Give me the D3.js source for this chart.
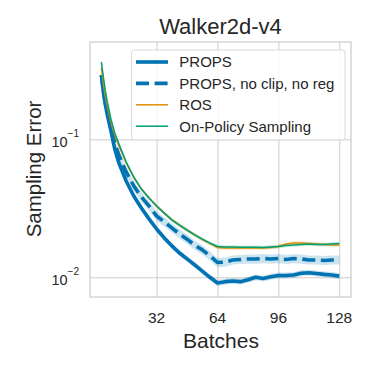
<!DOCTYPE html>
<html>
<head>
<meta charset="utf-8">
<script src="https://cdnjs.cloudflare.com/ajax/libs/d3/7.8.5/d3.min.js"></script>
<style>
  html, body { margin: 0; padding: 0; background: #fff; overflow: hidden; }
  svg { display: block; }
</style>
</head>
<body>
<svg id="chart" width="370" height="370" viewBox="0 0 370 370" font-family="Liberation Sans, Arial, sans-serif"></svg>
<script>
const batches = [3, 4, 5, 6, 8, 10, 12, 16, 20, 24, 28, 32, 36, 40, 44, 48, 52, 56, 60, 64,
    68, 72, 76, 80, 84, 88, 92, 96, 100, 104, 108, 112, 116, 120, 124, 128];

const props = [0.292, 0.220, 0.180, 0.1525, 0.115, 0.085, 0.0685, 0.0499, 0.0388, 0.0318, 0.0265,
    0.0224, 0.0193, 0.0169, 0.0150, 0.0136, 0.0123, 0.0111, 0.0100, 0.0091,
    0.0093, 0.0094, 0.0093, 0.0096, 0.0100, 0.0098, 0.0101, 0.0103, 0.0103, 0.0104,
    0.0107, 0.0108, 0.01065, 0.0105, 0.0104, 0.0102];

const propsNoClip = [0.292, 0.224, 0.186, 0.160, 0.123, 0.094, 0.078, 0.058, 0.0459, 0.0382, 0.0329,
    0.0278, 0.0252, 0.0228, 0.0206, 0.0189, 0.0171, 0.0158, 0.0143, 0.0128,
    0.0129, 0.01335, 0.01346, 0.01357, 0.01357, 0.01368, 0.01357, 0.01368, 0.01346, 0.01368,
    0.01357, 0.01335, 0.01335, 0.01323, 0.01335, 0.01335];

const ros = [0.329, 0.256, 0.209, 0.177, 0.1335, 0.107, 0.091, 0.0674, 0.0529, 0.0436, 0.0375,
    0.0329, 0.0292, 0.0262, 0.0239, 0.0220, 0.0203, 0.0188, 0.0176, 0.01644,
    0.01631, 0.01631, 0.01631, 0.01631, 0.01631, 0.01631, 0.01644, 0.01672, 0.01743, 0.0177,
    0.0177, 0.0176, 0.01743, 0.01728, 0.01714, 0.01714];

const onPolicy = [0.363, 0.283, 0.228, 0.1895, 0.140, 0.111, 0.094, 0.0685, 0.0533, 0.0436, 0.0375,
    0.0329, 0.0292, 0.0260, 0.0239, 0.0220, 0.0203, 0.0189, 0.0177, 0.01672,
    0.01658, 0.01658, 0.01652, 0.0165, 0.0165, 0.01644, 0.01658, 0.01672, 0.0170, 0.01714,
    0.01728, 0.01743, 0.01728, 0.01728, 0.01743, 0.0176];

// multiplicative half-width of the shaded band, read per series
const bandRatio = [1.05, 1.08, 1.03, 1.03];

const seriesNames = ["PROPS", "PROPS, no clip, no reg", "ROS", "On-Policy Sampling"];
const seriesValues = [props, propsNoClip, ros, onPolicy];
const xTickValues = [32, 64, 96, 128];
const yTickValues = [0.01, 0.1];
const yTickExponents = ["−2", "−1"];

const colors = ["#0173b2", "#0173b2", "#de8f05", "#029e73"];
const widths = [3.6, 3.6, 1.5, 1.5];
const dashes = [null, "13,5.6", null, null];

const svg = d3.select("#chart");
const margin = { top: 42, right: 19, bottom: 73, left: 90 };
const width = 370, height = 370;
const innerWidth = width - margin.left - margin.right;
const innerHeight = height - margin.top - margin.bottom;

const xScale = d3.scaleLinear()
    .domain([-3, 134.15])
    .range([margin.left, margin.left + innerWidth]);

const yScale = d3.scaleLog()
    .domain([0.0072, 0.507])
    .range([margin.top + innerHeight, margin.top]);

svg.append("clipPath").attr("id", "plot-clip")
    .append("rect")
    .attr("x", margin.left)
    .attr("y", margin.top)
    .attr("width", innerWidth)
    .attr("height", innerHeight);

// grid lines from the axes, labels drawn separately
const xAxisG = svg.append("g")
    .attr("transform", `translate(0,${margin.top + innerHeight})`)
    .call(d3.axisBottom(xScale).tickValues(xTickValues).tickSize(-innerHeight).tickFormat(() => ""));
xAxisG.select(".domain").remove();
xAxisG.selectAll(".tick text").remove();
xAxisG.selectAll(".tick line").attr("stroke", "#cccccc").attr("stroke-width", 1);

const yAxisG = svg.append("g")
    .attr("transform", `translate(${margin.left},0)`)
    .call(d3.axisLeft(yScale).tickValues(yTickValues).tickSize(-innerWidth).tickFormat(() => ""));
yAxisG.select(".domain").remove();
yAxisG.selectAll(".tick text").remove();
yAxisG.selectAll(".tick line").attr("stroke", "#cccccc").attr("stroke-width", 1);

// bands and lines
const plot = svg.append("g").attr("clip-path", "url(#plot-clip)");

const area = (ratio) => d3.area()
    .x((d, i) => xScale(batches[i]))
    .y0(d => yScale(d / ratio))
    .y1(d => yScale(d * ratio));

const line = d3.line()
    .x((d, i) => xScale(batches[i]))
    .y(d => yScale(d));

seriesValues.forEach((vals, i) => {
    plot.append("path")
        .attr("d", area(bandRatio[i])(vals))
        .attr("fill", colors[i])
        .attr("fill-opacity", 0.2)
        .attr("stroke", "none");
});

seriesValues.forEach((vals, i) => {
    plot.append("path")
        .attr("d", line(vals))
        .attr("fill", "none")
        .attr("stroke", colors[i])
        .attr("stroke-width", widths[i])
        .attr("stroke-dasharray", dashes[i])
        .attr("stroke-linejoin", "round");
});

// frame
svg.append("rect")
    .attr("x", margin.left)
    .attr("y", margin.top)
    .attr("width", innerWidth)
    .attr("height", innerHeight)
    .attr("fill", "none")
    .attr("stroke", "#cccccc")
    .attr("stroke-width", 1.25);

// legend
const legX = 131.5, legY = 50;
svg.append("rect")
    .attr("x", legX)
    .attr("y", legY)
    .attr("width", 213.5)
    .attr("height", 90)
    .attr("rx", 3)
    .attr("fill", "#ffffff")
    .attr("fill-opacity", 0.8)
    .attr("stroke", "#d9d9d9")
    .attr("stroke-width", 1);

seriesNames.forEach((name, i) => {
    const rowY = legY + 17.3 + i * 21.4;
    svg.append("line")
        .attr("x1", legX + 4.5).attr("x2", legX + 36.5)
        .attr("y1", rowY - 5.3).attr("y2", rowY - 5.3)
        .attr("stroke", colors[i])
        .attr("stroke-width", widths[i])
        .attr("stroke-dasharray", dashes[i]);
});

const textLayer = svg.append("g").attr("fill", "#262626");

seriesNames.forEach((name, i) => {
    textLayer.append("text")
        .attr("x", legX + 47.8)
        .attr("y", legY + 17.3 + i * 21.4)
        .attr("font-size", 15)
        .text(name);
});

textLayer.selectAll("text.xtick").data(xTickValues)
    .enter().append("text")
    .attr("class", "xtick")
    .attr("x", d => xScale(d))
    .attr("y", margin.top + innerHeight + 26)
    .attr("text-anchor", "middle")
    .attr("font-size", 15.5)
    .text(d => d);

textLayer.selectAll("text.ytick").data(yTickValues)
    .enter().append("text")
    .attr("class", "ytick")
    .attr("x", margin.left - 11)
    .attr("y", d => yScale(d) + 8)
    .attr("text-anchor", "end")
    .attr("font-size", 14.5)
    .text("10")
    .append("tspan")
    .attr("dy", -10)
    .attr("font-size", 10)
    .text((d, i) => yTickExponents[i]);

// titles
textLayer.append("text")
    .attr("x", 220.5)
    .attr("y", 34)
    .attr("text-anchor", "middle")
    .attr("font-size", 22)
    .text("Walker2d-v4");

textLayer.append("text")
    .attr("x", 221)
    .attr("y", 348.3)
    .attr("text-anchor", "middle")
    .attr("font-size", 21)
    .text("Batches");

textLayer.append("text")
    .attr("transform", "translate(40.5,169) rotate(-90)")
    .attr("text-anchor", "middle")
    .attr("font-size", 20.5)
    .text("Sampling Error");
</script>
</body>
</html>
